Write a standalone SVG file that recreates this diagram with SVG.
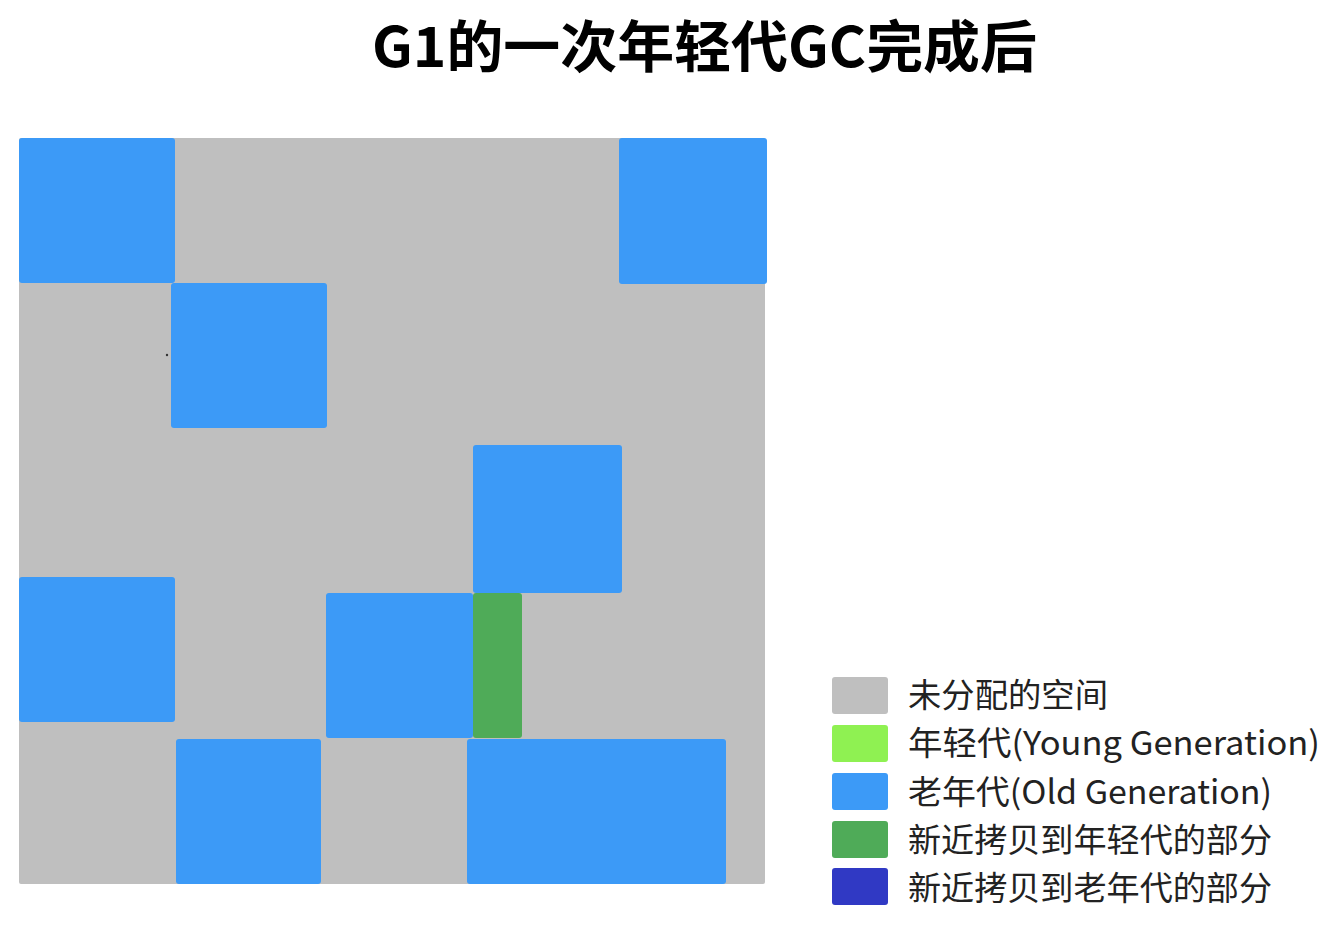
<svg xmlns="http://www.w3.org/2000/svg" width="1329" height="930" viewBox="0 0 1329 930">
<style>
.old{fill:#3c9af7}
.copyY{fill:#4fab58}
.free{fill:#bfbfbf}
.lt{font-family:"Noto Sans CJK SC","Noto Sans",sans-serif;font-size:33px;fill:#222}
.title{font-family:"Noto Sans CJK SC","Noto Sans",sans-serif;font-size:56px;font-weight:bold;fill:#000}
</style>
<rect width="1329" height="930" fill="#fff"/>
<text class="title" x="372" y="67" textLength="665" lengthAdjust="spacingAndGlyphs">G1的一次年轻代GC完成后</text>
<g id="heap">
<rect class="free" x="19" y="138" width="746" height="746" rx="2"/>
</g>
<g id="regions">
<rect id="r1" class="old" x="19" y="138" width="156" height="145" rx="3"/>
<rect id="r2" class="old" x="619" y="138" width="148" height="146" rx="3"/>
<rect id="r3" class="old" x="171" y="283" width="156" height="145" rx="3"/>
<rect id="r4" class="old" x="473" y="445" width="149" height="148" rx="3"/>
<rect id="r5" class="old" x="19" y="577" width="156" height="145" rx="3"/>
<rect id="r6" class="old" x="326" y="593" width="147" height="145" rx="3"/>
<rect id="r7" class="copyY" x="473" y="593" width="49" height="145" rx="3"/>
<rect id="r8" class="old" x="176" y="739" width="145" height="145" rx="3"/>
<rect id="r9" class="old" x="467" y="739" width="259" height="145" rx="3"/>
<circle cx="167" cy="355" r="1.2" fill="#333"/>
</g>
<g id="connectors"></g>
<g id="legend">
<rect x="832" y="677" width="56" height="37" rx="3" fill="#bfbfbf"/>
<text class="lt" x="908" y="707" textLength="200" lengthAdjust="spacingAndGlyphs">未分配的空间</text>
<rect x="832" y="725" width="56" height="37" rx="3" fill="#8ff152"/>
<text class="lt" x="908" y="755" textLength="412" lengthAdjust="spacingAndGlyphs">年轻代(Young Generation)</text>
<rect x="832" y="773" width="56" height="37" rx="3" fill="#3c9af7"/>
<text class="lt" x="908" y="804" textLength="364" lengthAdjust="spacingAndGlyphs">老年代(Old Generation)</text>
<rect x="832" y="821" width="56" height="37" rx="3" fill="#4fab58"/>
<text class="lt" x="908" y="852" textLength="364" lengthAdjust="spacingAndGlyphs">新近拷贝到年轻代的部分</text>
<rect x="832" y="868" width="56" height="37" rx="3" fill="#3039c4"/>
<text class="lt" x="908" y="900" textLength="364" lengthAdjust="spacingAndGlyphs">新近拷贝到老年代的部分</text>
</g>
</svg>
